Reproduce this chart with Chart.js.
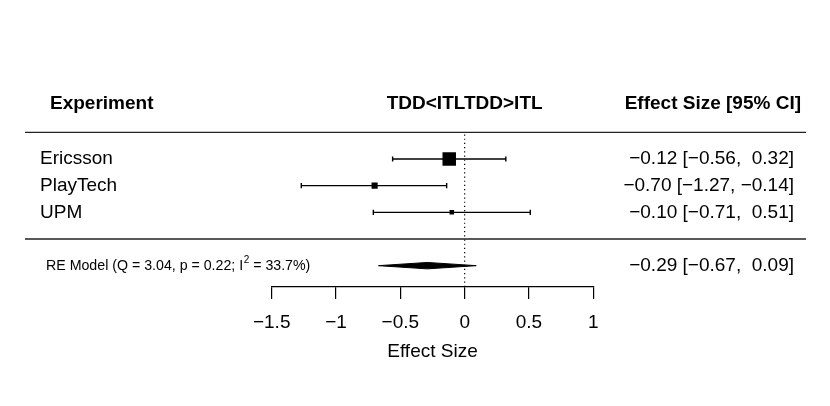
<!DOCTYPE html>
<html>
<head>
<meta charset="utf-8">
<script src="https://cdn.jsdelivr.net/npm/chart.js@4.4.0/dist/chart.umd.min.js"></script>
<style>
  html, body { margin: 0; padding: 0; background: #fff; }
  #wrap { width: 830px; height: 406px; }
</style>
</head>
<body>
<div id="wrap"><canvas id="forest"></canvas></div>
<script>
// study data
const studies = ['Ericsson', 'PlayTech', 'UPM'];
const estimates = [-0.12, -0.70, -0.10];
const ciLower = [-0.56, -1.27, -0.71];
const ciUpper = [0.32, -0.14, 0.51];

// random effects summary
const summaryLabel = 'RE Model';
const summaryEst = -0.29;
const summaryLower = -0.67;
const summaryUpper = 0.09;
const hetQ = 3.04;
const hetP = 0.22;
const hetI2 = 33.7;

const xTicks = [-1.5, -1, -0.5, 0, 0.5, 1];
const headers = ['Experiment', 'TDD<ITLTDD>ITL', 'Effect Size [95% CI]'];
const xTitle = 'Effect Size';

const FONT = 'Liberation Sans, Arial, Helvetica, sans-serif';
const Y_MIN = -1.8;
const Y_MAX = 6;

function fmtNum(v, digits) {
    return (v < 0 ? '\u2212' : '') + Math.abs(v).toFixed(digits);
}

function fmtTick(v) {
    return (v < 0 ? '\u2212' : '') + String(Math.abs(v));
}

function fmtCI(est, lb, ub) {
    const pad = v => (v >= 0 ? ' ' : '') + fmtNum(v, 2);
    return `${fmtNum(est, 2)} [${pad(lb)}, ${pad(ub)}]`;
}

// row positions: studies on top, summary below the separator
const studyRow = i => studies.length - i;
const sepRow = 0;
const summaryRow = -1;
const topRuleRow = studies.length + 1;
const headerRow = studies.length + 2;

// square sizes from inverse-variance weights (metafor style, 0.5..1.5)
const weights = studies.map((s, i) => {
    const se = (ciUpper[i] - ciLower[i]) / (2 * 1.96);
    return 1 / (se * se);
});
const wMin = Math.min(...weights);
const wMax = Math.max(...weights);
const squareRadius = weights.map(w => {
    const rel = 0.5 + (w - wMin) / (wMax - wMin);
    return (9 * rel) / Math.SQRT2;
});

const datasets = [];

// dotted reference line at 0
datasets.push({
    data: [{ x: 0, y: topRuleRow - 0.08 }, { x: 0, y: Y_MIN }],
    showLine: true,
    borderColor: '#000',
    borderWidth: 1.2,
    borderDash: [1.2, 3],
    pointRadius: 0
});

// confidence intervals
studies.forEach((s, i) => {
    datasets.push({
        data: [{ x: ciLower[i], y: studyRow(i) }, { x: ciUpper[i], y: studyRow(i) }],
        showLine: true,
        borderColor: '#000',
        borderWidth: 1.4,
        pointStyle: 'line',
        pointRotation: 90,
        pointRadius: 2.6,
        pointBorderWidth: 1.4,
        pointBorderColor: '#000'
    });
});

// point estimates
datasets.push({
    data: studies.map((s, i) => ({ x: estimates[i], y: studyRow(i) })),
    pointStyle: 'rect',
    pointRadius: squareRadius,
    pointBackgroundColor: '#000',
    pointBorderWidth: 0,
    showLine: false
});

// summary diamond
const dh = 0.12;
datasets.push({
    data: [
        { x: summaryLower, y: summaryRow },
        { x: summaryEst, y: summaryRow + dh },
        { x: summaryUpper, y: summaryRow },
        { x: summaryEst, y: summaryRow - dh },
        { x: summaryLower, y: summaryRow }
    ],
    showLine: true,
    fill: 'shape',
    backgroundColor: '#000',
    borderColor: '#000',
    borderWidth: 1,
    pointRadius: 0,
    tension: 0
});

// text columns and horizontal rules
const forestText = {
    id: 'forestText',
    afterDraw(chart) {
        const ctx = chart.ctx;
        const ys = chart.scales.y;
        const xs = chart.scales.x;
        ctx.save();
        ctx.fillStyle = '#000';
        ctx.textBaseline = 'middle';

        // rules
        ctx.strokeStyle = '#222';
        ctx.lineWidth = 1.4;
        [topRuleRow, sepRow].forEach(r => {
            const y = ys.getPixelForValue(r);
            ctx.beginPath();
            ctx.moveTo(25, y);
            ctx.lineTo(806, y);
            ctx.stroke();
        });

        // headers
        const hy = ys.getPixelForValue(headerRow) - 1.5;
        ctx.font = `bold 19px ${FONT}`;
        ctx.textAlign = 'left';
        ctx.fillText(headers[0], 50, hy);
        ctx.textAlign = 'center';
        ctx.fillText(headers[1], xs.getPixelForValue(0), hy);
        ctx.textAlign = 'right';
        ctx.fillText(headers[2], 801, hy);

        // study rows
        ctx.font = `19px ${FONT}`;
        studies.forEach((s, i) => {
            const y = ys.getPixelForValue(studyRow(i));
            ctx.textAlign = 'left';
            ctx.fillText(s, 40, y);
            ctx.textAlign = 'right';
            ctx.fillText(fmtCI(estimates[i], ciLower[i], ciUpper[i]), 794, y);
        });

        // summary row
        const sy = ys.getPixelForValue(summaryRow);
        ctx.textAlign = 'right';
        ctx.fillText(fmtCI(summaryEst, summaryLower, summaryUpper), 794, sy);

        ctx.textAlign = 'left';
        ctx.font = `14.2px ${FONT}`;
        const part1 = `${summaryLabel} (Q = ${hetQ.toFixed(2)}, p = ${hetP.toFixed(2)}; I`;
        const part2 = ` = ${hetI2.toFixed(1)}%)`;
        let x = 46;
        ctx.fillText(part1, x, sy);
        x += ctx.measureText(part1).width;
        ctx.font = `10px ${FONT}`;
        ctx.fillText('2', x + 0.5, sy - 5.5);
        x += ctx.measureText('2').width + 0.5;
        ctx.font = `14.2px ${FONT}`;
        ctx.fillText(part2, x, sy);
        ctx.restore();
    }
};

new Chart(document.getElementById('forest'), {
    type: 'scatter',
    data: { datasets },
    options: {
        responsive: true,
        maintainAspectRatio: false,
        animation: false,
        layout: {
            padding: { left: 271.7, right: 236.7, top: 79, bottom: 43 }
        },
        plugins: {
            legend: { display: false },
            tooltip: { enabled: false }
        },
        scales: {
            x: {
                type: 'linear',
                min: xTicks[0],
                max: xTicks[xTicks.length - 1],
                afterBuildTicks(scale) {
                    scale.ticks = xTicks.map(v => ({ value: v }));
                },
                afterFit(scale) {
                    scale.height = 76;
                },
                ticks: {
                    callback: v => fmtTick(v),
                    color: '#000',
                    font: { family: FONT, size: 19 },
                    padding: 12.5,
                    maxRotation: 0,
                    autoSkip: false
                },
                grid: {
                    display: true,
                    drawOnChartArea: false,
                    drawTicks: true,
                    tickLength: 12,
                    color: '#000',
                    lineWidth: 1.2
                },
                border: { display: true, color: '#000', width: 1.2 },
                title: {
                    display: true,
                    text: xTitle,
                    color: '#000',
                    font: { family: FONT, size: 19 },
                    padding: { top: 0, bottom: 0 }
                }
            },
            y: {
                type: 'linear',
                min: Y_MIN,
                max: Y_MAX,
                display: false
            }
        }
    },
    plugins: [forestText]
});
</script>
</body>
</html>
